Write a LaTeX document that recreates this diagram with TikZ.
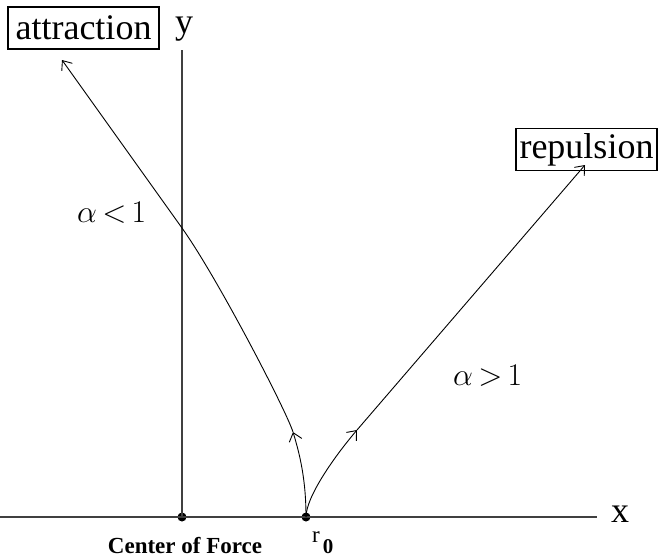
\documentclass[tikz,border=0pt]{standalone}
\usepackage{fontspec}
\setmainfont{Liberation Serif}
\usetikzlibrary{arrows.meta}
\begin{document}
\begin{tikzpicture}[x=1pt,y=-1pt,
  lbox/.style={draw,line width=1.3pt,inner sep=0pt,minimum height=42pt,font=\fontsize{36}{40}\selectfont},
  axis/.style={line width=1.8pt,black!75},
  dotnode/.style={circle,fill=black,minimum size=9pt,inner sep=0pt},
  curve/.style={line width=0.9pt,-{Straight Barb[length=8pt,width=13pt]}},
  biglab/.style={anchor=base,inner sep=0pt,font=\fontsize{36}{40}\selectfont},
  alab/.style={anchor=base west,inner sep=0pt,font=\fontsize{24}{28}\selectfont}]
\useasboundingbox (0,0) rectangle (658,558);
% axes
\coordinate (xl) at (0,517);
\coordinate (xr) at (597,517);
\coordinate (yt) at (182,50);
\node[dotnode] (cf) at (182,517) {};
\node[dotnode] (r0) at (306,517) {};
\draw[axis] (xl) -- (xr);
\draw[axis] (cf.center) -- (yt);
\node[biglab] (xlab) at (620,522) {x};
\node[biglab] (ylab) at (184,33) {y};
% boxes
\node[lbox,minimum width=151pt] (attr) at (83.5,28) {attraction};
\node[lbox,minimum width=141pt] (rep) at (586.5,149.5) {repulsion};
% attraction trajectory
\coordinate (a1) at (293,432);
\coordinate (ay) at (182,228);
\coordinate (a2) at (62,60);
\draw[curve] (r0.center) .. controls (306,480) and (300,455) .. (a1);
\draw[curve] (a1) .. controls (286,410) and (217,277) .. (ay) -- (a2);
% repulsion trajectory
\coordinate (b1) at (357,430);
\coordinate (b2) at (585,165);
\draw[curve] (r0.center) .. controls (306,497) and (334,457) .. (b1);
\draw[curve] (b1) -- (b2);
% labels
\node[alab] (al1) at (77,222) {\scalebox{1.27}{$\alpha\,{<}\,1$}};
\node[alab] (al2) at (453,385) {\scalebox{1.27}{$\alpha\,{>}\,1$}};
\node[anchor=base,inner sep=0pt,font=\fontsize{23}{27}\selectfont\bfseries] (cflab) at (185,553) {Center of Force};
\node[anchor=base west,inner sep=0pt,font=\fontsize{23}{27}\selectfont] (r0lab) at (312,542) {r\kern3pt\raisebox{-11pt}{\fontsize{21}{24}\selectfont\bfseries 0}};
\end{tikzpicture}
\end{document}
